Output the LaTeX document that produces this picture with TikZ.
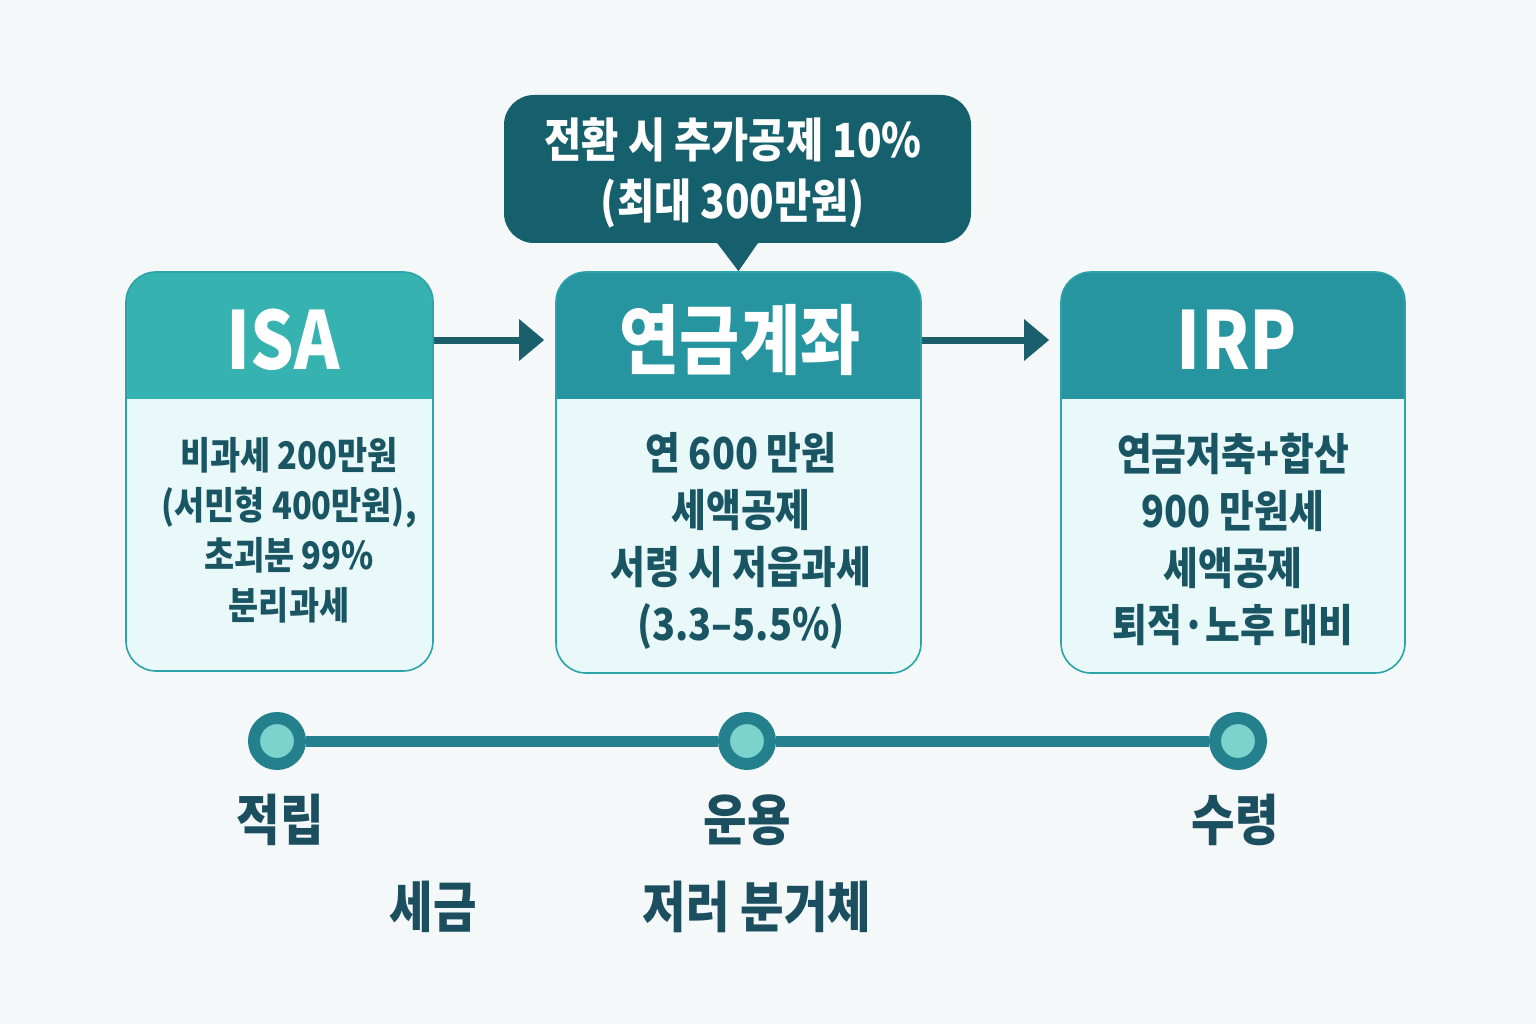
\documentclass[tikz,border=0pt]{standalone}
\usepackage{fontspec}
\setmainfont{Noto Sans CJK KR}[FakeStretch=0.86]
\usetikzlibrary{arrows.meta}
\definecolor{bgc}{HTML}{F4F8F9}
\definecolor{isahead}{HTML}{36B2B0}
\definecolor{mainhead}{HTML}{2695A0}
\definecolor{bodyc}{HTML}{E9F8F8}
\definecolor{borderc}{HTML}{2BA3A8}
\definecolor{txtc}{HTML}{1A5563}
\definecolor{calloutc}{HTML}{165F6C}
\definecolor{arrowc}{HTML}{1B5F6C}
\definecolor{linec}{HTML}{23808C}
\definecolor{dotc}{HTML}{7BD3CB}
\definecolor{lblc}{HTML}{1B4E5E}
\begin{document}
\begin{tikzpicture}[x=1pt,y=-1pt,
  card/.style={draw=borderc, line width=1.6pt, rounded corners=30pt, fill=bodyc, inner sep=0pt,
    path picture={\fill[#1, sharp corners] (path picture bounding box.north west) rectangle ([yshift=-127pt]path picture bounding box.north east);}},
  headtxt/.style={text=white, font=\fontsize{80}{90}\selectfont\bfseries, inner sep=0pt},
  bodytxt/.style={text=txtc, align=center, inner sep=0pt, font=\fontsize{44}{57}\selectfont\bfseries},
  smallbody/.style={text=txtc, align=center, inner sep=0pt, font=\fontsize{38}{50}\selectfont\bfseries},
  callout/.style={fill=calloutc, rounded corners=30pt, minimum width=467pt, minimum height=148pt},
  callouttxt/.style={text=white, align=center, inner sep=0pt, font=\fontsize{47}{61}\selectfont\bfseries},
  flow/.style={draw=arrowc, line width=7pt, shorten >=11pt, -{Triangle[length=25pt,width=40pt]}},
  dot/.style={circle, draw=linec, line width=12pt, fill=dotc, minimum size=46pt, inner sep=0pt},
  tl/.style={draw=linec, line width=11pt},
  lbl/.style={text=lblc, font=\fontsize{55}{60}\selectfont\bfseries, inner sep=0pt}
]
\fill[bgc] (0,0) rectangle (1536,1024);
\useasboundingbox (0,0) rectangle (1536,1024);

% cards
\node[card=isahead, minimum width=307pt, minimum height=399pt] (isa) at (279.5,471.5) {};
\node[card=mainhead, minimum width=365pt, minimum height=401pt] (pen) at (738.5,472.5) {};
\node[card=mainhead, minimum width=344pt, minimum height=401pt] (irp) at (1233,472.5) {};

% headers
\node[headtxt] (isah) at (283,340) {ISA};
\node[headtxt, font=\fontsize{76}{86}\selectfont\bfseries] (penh) at (740,340) {연금계좌};
\node[headtxt] (irph) at (1237,340) {IRP};

% bodies
\node[smallbody] (isab) at (289,530) {비과세 200만원\\(서민형 400만원),\\초괴분 99\%\\분리과세};
\node[bodytxt] (penb) at (741,541) {연 600 만원\\세액공제\\서령 시 저읍과세\\(3.3–5.5\%)};
\node[bodytxt] (irpb) at (1233,539) {연금저축+합산\\900 만원세\\세액공제\\퇴적·노후 대비};

% arrows
\draw[flow] (isah -| isa.east) -- (isah -| pen.west);
\draw[flow] (penh -| pen.east) -- (penh -| irp.west);

% callout
\node[callout] (call) at (737.5,169) {};
\node[callouttxt] (calltxt) at (733,173) {전환 시 추가공제 10\%\\(최대 300만원)};
\fill[calloutc] ([xshift=-21pt,yshift=1pt]call.south) -- (pen.north) -- ([xshift=21pt,yshift=1pt]call.south) -- cycle;

% timeline
\node[dot] (t1) at (277,741) {};
\node[dot] (t2) at (747,741) {};
\node[dot] (t3) at (1238,741) {};
\draw[tl] (t1) -- (t2);
\draw[tl] (t2) -- (t3);

% labels
\node[lbl] (l1) at (280,820) {적립};
\node[lbl] (l2) at (747,820) {운용};
\node[lbl] (l3) at (1235,820) {수령};
\node[lbl] (l4) at (433,907) {세금};
\node[lbl] (l5) at (757,907) {저러 분거체};
\end{tikzpicture}
\end{document}
